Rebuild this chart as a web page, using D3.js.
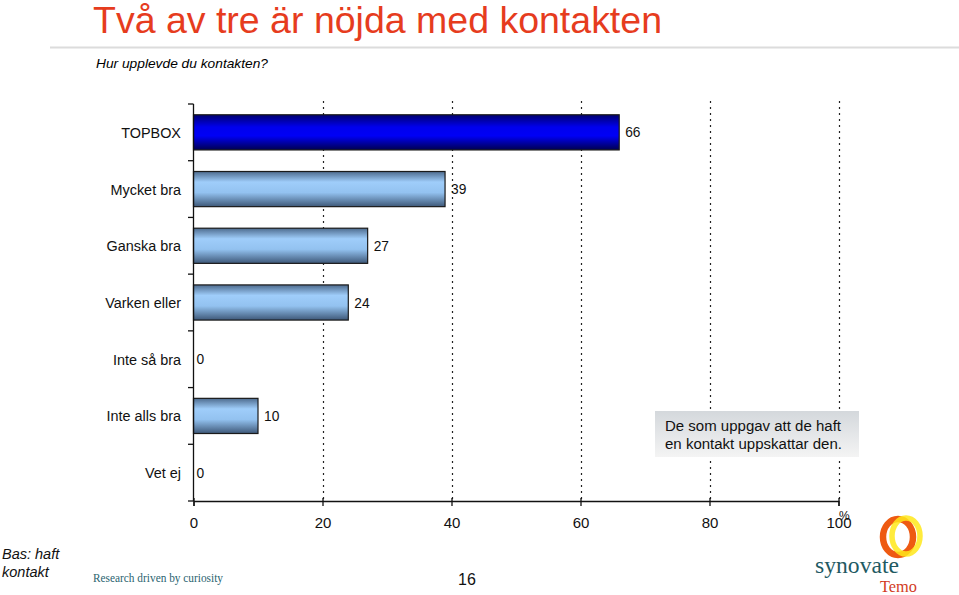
<!DOCTYPE html>
<html><head><meta charset="utf-8">
<script src="https://cdn.jsdelivr.net/npm/d3@7"></script>
<style>body{margin:0;background:#fff}svg{display:block}</style>
</head><body>
<svg id="c" width="959" height="595" font-family="Liberation Sans, Arial, sans-serif"></svg>
<script>
const categories = ["TOPBOX","Mycket bra","Ganska bra","Varken eller","Inte så bra","Inte alls bra","Vet ej"];
const values = [66,39,27,24,0,10,0];
const xTicks = [0,20,40,60,80,100];

const svg = d3.select("#c");
const defs = svg.append("defs");
function grad(id, stops){
  const g = defs.append("linearGradient").attr("id",id).attr("x1",0).attr("y1",0).attr("x2",0).attr("y2",1);
  stops.forEach(s=>g.append("stop").attr("offset",s[0]).attr("stop-color",s[1]));
}
grad("gTop",[[0,"#000070"],[0.35,"#0000ee"],[0.6,"#0000f5"],[1,"#000050"]]);
grad("gBar",[[0,"#4d6b8e"],[0.3,"#9fcdfa"],[0.6,"#93c2f0"],[1,"#3e5878"]]);
grad("gBox",[[0,"#d4d8dc"],[1,"#f4f4f4"]]);

function condense(sel, f){
  sel.each(function(){ const w = this.getComputedTextLength(); d3.select(this).attr("textLength", w*f).attr("lengthAdjust","spacingAndGlyphs"); });
}

// Title
svg.append("text").attr("x",93).attr("y",33).attr("fill","#e63c1e").attr("font-size",37)
  .attr("textLength",569).attr("lengthAdjust","spacingAndGlyphs").text("Två av tre är nöjda med kontakten");
svg.append("line").attr("x1",50).attr("x2",959).attr("y1",47.5).attr("y2",47.5).attr("stroke","#dcdcdc").attr("stroke-width",2);
svg.append("text").attr("x",96).attr("y",68).attr("font-size",13).attr("font-style","italic")
  .attr("textLength",172).attr("lengthAdjust","spacingAndGlyphs").text("Hur upplevde du kontakten?");

const x = d3.scaleLinear().domain([0,100]).range([193.5,838.5]);
const y = d3.scaleBand().domain(categories).range([104,501]).paddingInner(0.38).paddingOuter(0.19);
const band = d3.scaleBand().domain(categories).range([104,501]);

// gridlines
svg.append("g").selectAll("line").data(xTicks.slice(1)).join("line")
  .attr("x1",d=>Math.round(x(d))+0.5).attr("x2",d=>Math.round(x(d))+0.5).attr("y1",101).attr("y2",501)
  .attr("stroke","#222").attr("stroke-width",1.2).attr("stroke-dasharray","2,4");

// bars
svg.append("g").selectAll("rect").data(categories.map((c,i)=>({c,v:values[i]})).filter(d=>d.v>0)).join("rect")
  .attr("x",x(0)).attr("y",d=>y(d.c)).attr("width",d=>x(d.v)-x(0)).attr("height",y.bandwidth())
  .attr("fill",d=>d.c==="TOPBOX"?"url(#gTop)":"url(#gBar)").attr("stroke","#1a1a1a").attr("stroke-width",1.2);

// value labels
svg.append("g").selectAll("text").data(categories.map((c,i)=>({c,v:values[i]}))).join("text")
  .attr("x",d=>x(d.v)+(d.v>0?6:3)).attr("y",d=>y(d.c)+y.bandwidth()/2+5).attr("font-size",14.5).attr("fill","#111")
  .text(d=>d.v).call(condense,0.95);

// y axis
const yAxis = svg.append("g");
yAxis.append("line").attr("x1",193.5).attr("x2",193.5).attr("y1",104).attr("y2",501).attr("stroke","#111").attr("stroke-width",1.3);
yAxis.selectAll("line.t").data(categories.map(c=>band(c)).concat([501])).join("line").attr("class","t")
  .attr("x1",188).attr("x2",193.5).attr("y1",d=>d).attr("y2",d=>d).attr("stroke","#111").attr("stroke-width",1.3);
yAxis.selectAll("text").data(categories).join("text").attr("x",181).attr("y",d=>band(d)+band.bandwidth()/2+5.5)
  .attr("text-anchor","end").attr("font-size",15.5).attr("fill","#111").text(d=>d).call(condense,0.93);

// x axis
const xAxis = svg.append("g").attr("transform","translate(0,501)")
  .call(d3.axisBottom(x).tickValues(xTicks).tickSize(5).tickPadding(11));
xAxis.select(".domain").attr("stroke","#111").attr("stroke-width",1.3);
xAxis.selectAll(".tick line").attr("y1",-3).attr("stroke","#111").attr("stroke-width",1.3);
xAxis.selectAll(".tick text").attr("font-size",15).attr("fill","#111").attr("font-family","Liberation Sans, Arial, sans-serif");
svg.append("text").attr("x",839).attr("y",520).attr("font-size",12).attr("fill","#111").text("%");

// annotation box
svg.append("rect").attr("x",655).attr("y",411).attr("width",204).attr("height",46).attr("fill","url(#gBox)");
svg.append("text").attr("x",665).attr("y",431).attr("font-size",15.5).attr("fill","#111")
  .attr("textLength",176).attr("lengthAdjust","spacingAndGlyphs").text("De som uppgav att de haft");
svg.append("text").attr("x",665).attr("y",449).attr("font-size",15.5).attr("fill","#111")
  .attr("textLength",177).attr("lengthAdjust","spacingAndGlyphs").text("en kontakt uppskattar den.");

// footer
svg.append("text").attr("x",2).attr("y",559).attr("font-size",14.5).attr("font-style","italic").attr("fill","#111").text("Bas: haft");
svg.append("text").attr("x",2).attr("y",577).attr("font-size",14.5).attr("font-style","italic").attr("fill","#111").text("kontakt");
svg.append("text").attr("x",93).attr("y",582).attr("font-size",11.5).attr("fill","#2a6470")
  .attr("font-family","Liberation Serif, serif").attr("textLength",130).attr("lengthAdjust","spacingAndGlyphs").text("Research driven by curiosity");
svg.append("text").attr("x",458).attr("y",585).attr("font-size",16).attr("fill","#111").text("16");

// logo
svg.append("ellipse").attr("cx",898).attr("cy",537).attr("rx",15).attr("ry",18).attr("fill","none").attr("stroke","#ee5a12").attr("stroke-width",6.5);
svg.append("ellipse").attr("cx",906).attr("cy",536).attr("rx",14).attr("ry",18).attr("fill","none").attr("stroke","#ffe81a").attr("stroke-width",5.5).attr("opacity",0.85);
svg.append("text").attr("x",815).attr("y",573).attr("font-size",24).attr("fill","#1f5a63")
  .attr("font-family","Liberation Serif, serif").attr("textLength",84).attr("lengthAdjust","spacingAndGlyphs").text("synovate");
svg.append("text").attr("x",880).attr("y",592).attr("font-size",16).attr("fill","#d23c1e")
  .attr("font-family","Liberation Serif, serif").attr("textLength",37).attr("lengthAdjust","spacingAndGlyphs").text("Temo");
</script>
</body></html>
